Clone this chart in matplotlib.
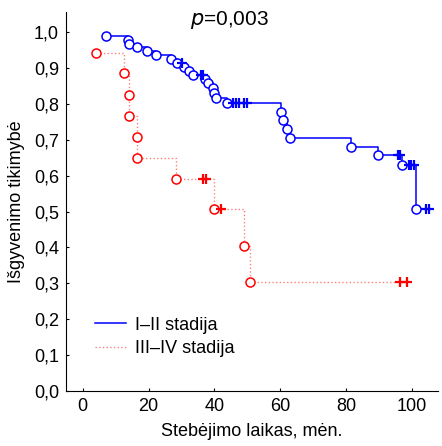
import matplotlib
matplotlib.use("Agg")
import matplotlib.pyplot as plt

plt.rcParams["font.family"] = ["Liberation Sans", "DejaVu Sans"]

# I-II stadija: ivykiai (apskritimai) ir cenzuoti (+)
blue_ev_t = [7.1, 13.9, 14.1, 16.5, 19.6, 22.4, 26.7, 28.6, 30.7, 32.4, 33.6, 37.2,
             38.1, 39.5, 39.8, 40.5, 43.9, 60.3, 60.9, 62.0, 63.1, 81.4, 89.7, 96.9, 101.3]
blue_ev_s = [0.991, 0.980, 0.969, 0.959, 0.948, 0.938, 0.926, 0.915, 0.904, 0.893, 0.882, 0.871,
             0.858, 0.846, 0.832, 0.818, 0.803, 0.778, 0.755, 0.730, 0.706, 0.681, 0.657, 0.631, 0.506]
blue_cen_t = [30.2, 35.9, 36.5, 45.5, 46.5, 47.6, 49.0, 50.0, 95.8, 96.4, 99.0, 99.8, 100.6, 104.4, 105.3]
blue_cen_s = [0.915, 0.882, 0.882, 0.803, 0.803, 0.803, 0.803, 0.803, 0.657, 0.657, 0.631, 0.631, 0.631, 0.506, 0.506]

# III-IV stadija
red_ev_t = [4.1, 12.5, 14.0, 14.2, 16.5, 16.6, 28.2, 39.8, 48.9, 50.7]
red_ev_s = [0.943, 0.886, 0.825, 0.766, 0.709, 0.650, 0.591, 0.506, 0.405, 0.303]
red_cen_t = [36.4, 37.3, 42.1, 96.5, 98.5]
red_cen_s = [0.591, 0.591, 0.506, 0.303, 0.303]

BLUE = "#0000ff"
RED = "#ff0000"


def km(ax, ev_t, ev_s, cen_t, cen_s, color, ls, lw, alpha, label):
    pts = sorted(list(zip(ev_t, ev_s)) + list(zip(cen_t, cen_s)))
    ax.plot([p[0] for p in pts], [p[1] for p in pts], drawstyle="steps-post",
            color=color, ls=ls, lw=lw, alpha=alpha, label=label, zorder=2)
    ax.plot(ev_t, ev_s, "o", ms=6.5, mfc="white", mec=color, mew=1.1, ls="none", zorder=3)
    ax.plot(cen_t, cen_s, "+", ms=7, mec=color, mew=1.6, ls="none", zorder=3)


fig = plt.figure(figsize=(4.42, 4.46), dpi=100)
ax = fig.add_axes([0.149, 0.124, 0.842, 0.849])

km(ax, blue_ev_t, blue_ev_s, blue_cen_t, blue_cen_s, BLUE, "-", 1.1, 1.0, "I–II stadija")
km(ax, red_ev_t, red_ev_s, red_cen_t, red_cen_s, RED, ":", 1.0, 0.5, "III–IV stadija")

ax.set_xlim(-5.1, 107.9)
ax.set_ylim(0, 1.057)
ax.set_xticks([0, 20, 40, 60, 80, 100])
ax.set_yticks([i / 10 for i in range(11)])
ax.set_yticklabels([f"{i/10:.1f}".replace(".", ",") for i in range(11)])
ax.tick_params(direction="in", length=2.5, width=0.8, labelsize=13, pad=5)
for s in ["top", "right"]:
    ax.spines[s].set_visible(False)
for s in ["left", "bottom"]:
    ax.spines[s].set_linewidth(0.8)

ax.set_xlabel("Stebėjimo laikas, mėn.", fontsize=13, labelpad=6)
ax.set_ylabel("Išgyvenimo tikimybė", fontsize=13, labelpad=6)

ax.text(0.44, 0.978, r"$\it{p}$=0,003", transform=ax.transAxes, ha="center", va="center", fontsize=15)

ax.legend(loc="upper left", bbox_to_anchor=(0.06, 0.215), frameon=False, fontsize=13,
          handlelength=1.7, handletextpad=0.5, labelspacing=0.35, borderaxespad=0)

fig.savefig("out.png", dpi=100)
